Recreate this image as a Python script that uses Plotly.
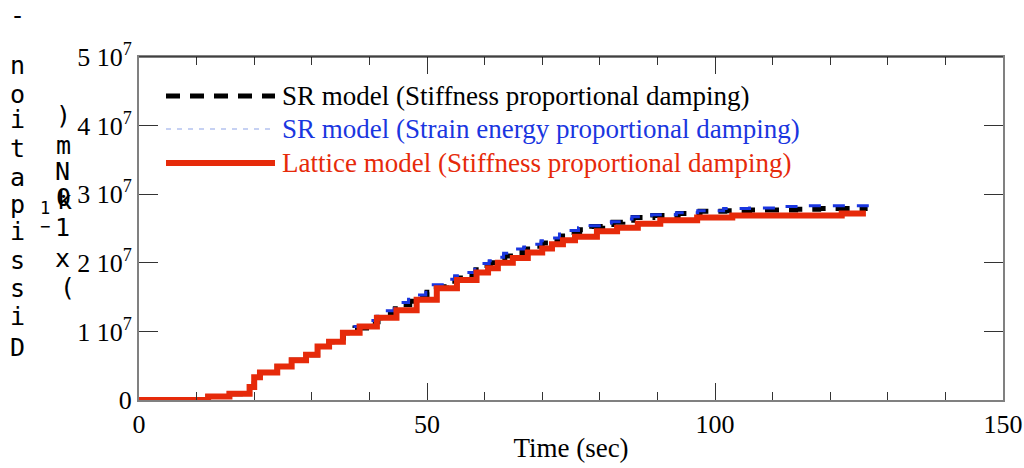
import plotly.graph_objects as go

# ---------------- data (values in units of 1e7) ----------------
t_early = [0, 12, 15.7, 19.2, 20, 21, 24, 26.5, 29, 31, 33]
v_early = [0, 0.05, 0.09, 0.19, 0.33, 0.40, 0.49, 0.58, 0.66, 0.78, 0.85]

t_lattice = t_early + [35.4, 38.3, 41.3, 44.7, 48.2, 51.7, 55.2, 58.6, 60.6, 62.3, 64.9, 67.5, 70, 71.7,
                       73.6, 75.7, 79.5, 83, 86.6, 90.5, 96.9, 103, 122, 126.2]
v_lattice = v_early + [0.98, 1.07, 1.20, 1.31, 1.46, 1.63, 1.75, 1.86, 1.92, 2.00, 2.07, 2.15, 2.21, 2.27,
                       2.33, 2.38, 2.46, 2.51, 2.57, 2.62, 2.66, 2.69, 2.72, 2.72]

t_sr_stiff = t_early + [35.5, 37.5, 39.5, 41.5, 42.7, 44.5, 45.6, 47, 48.4, 50, 51, 53.4, 55, 56.6, 58.5,
                        59.7, 61, 62, 63.5, 65.3, 67, 68.7, 70, 71.7, 73.3, 74.8, 76.5, 78.6, 80.5, 82.3,
                        84, 85.8, 89.2, 93.6, 97.4, 101.7, 106, 114, 118, 126.5]
v_sr_stiff = v_early + [0.98, 1.05, 1.14, 1.20, 1.27, 1.33, 1.39, 1.44, 1.50, 1.57, 1.65, 1.73, 1.78, 1.83,
                        1.90, 1.96, 2.00, 2.05, 2.10, 2.15, 2.20, 2.24, 2.29, 2.34, 2.39, 2.44, 2.48, 2.53,
                        2.56, 2.59, 2.62, 2.66, 2.69, 2.72, 2.75, 2.76, 2.77, 2.78, 2.79, 2.79]

t_sr_strain = t_early + [35.5, 37.5, 39.3, 41.3, 42.5, 44.3, 45.4, 46.8, 48.2, 49.8, 50.8, 53.2, 54.8, 56.4,
                         58.3, 59.5, 60.8, 61.8, 63.3, 65, 66.8, 68.5, 69.8, 71.5, 73, 74.5, 76.3, 78.3,
                         80.3, 82, 83.8, 85.6, 89, 93.3, 97, 101.5, 106, 112, 116, 126.7]
v_sr_strain = v_early + [1.00, 1.07, 1.16, 1.22, 1.30, 1.36, 1.42, 1.47, 1.53, 1.60, 1.68, 1.76, 1.81, 1.86,
                         1.93, 1.99, 2.03, 2.08, 2.14, 2.20, 2.23, 2.27, 2.32, 2.36, 2.42, 2.47, 2.51, 2.54,
                         2.58, 2.60, 2.64, 2.67, 2.70, 2.73, 2.76, 2.79, 2.80, 2.82, 2.83, 2.83]

series_names = ["SR model (Stiffness proportional damping)",
                "SR model (Strain energy proportional damping)",
                "Lattice model (Stiffness proportional damping)"]

y_tickvals = [0, 1, 2, 3, 4, 5]
y_ticktext = ["0", "1 10<sup>7</sup>", "2 10<sup>7</sup>", "3 10<sup>7</sup>", "4 10<sup>7</sup>", "5 10<sup>7</sup>"]
x_tickvals = [0, 50, 100, 150]

SCALE = 1e7

# ---------------- styling ----------------
W, H = 1024, 468
L, R, T, B = 139, 21, 57, 68
PW, PH = W - L - R, H - T - B
RED = "#e62a0a"
BLUE = "#1a36e0"
SERIF = "Liberation Serif, Times New Roman, serif"
MONO = "DejaVu Sans Mono, monospace"


def px(x):
    return (x - L) / PW


def py(y):
    return (H - B - y) / PH


fig = go.Figure()
fig.add_trace(go.Scatter(x=t_sr_stiff, y=[v * SCALE for v in v_sr_stiff], mode="lines", line_shape="hv",
                         line=dict(color="black", width=5, dash="14px,10px"), name=series_names[0]))
fig.add_trace(go.Scatter(x=t_sr_strain, y=[v * SCALE for v in v_sr_strain], mode="lines", line_shape="hv",
                         line=dict(color=BLUE, width=3, dash="12px,12px"), name=series_names[1]))
fig.add_trace(go.Scatter(x=t_lattice, y=[v * SCALE for v in v_lattice], mode="lines", line_shape="hv",
                         line=dict(color=RED, width=6), name=series_names[2]))

axis_common = dict(showgrid=False, zeroline=False, showline=True, linecolor="#808080", linewidth=2,
                   mirror="allticks", ticks="inside", tickcolor="#333333", tickwidth=1, automargin=False,
                   tickfont=dict(family=SERIF, size=26, color="black"))

fig.update_xaxes(range=[0, 150], tickvals=x_tickvals, ticklen=17,
                 minor=dict(ticks="inside", dtick=10, ticklen=8, tickcolor="#333333"),
                 title=dict(text="Time (sec)", font=dict(family=SERIF, size=27, color="black"), standoff=0),
                 **axis_common)
fig.update_yaxes(range=[0, 5 * SCALE], tickvals=[v * SCALE for v in y_tickvals], ticktext=y_ticktext,
                 ticklen=19, **axis_common)

shapes = [dict(type="line", xref="paper", yref="paper", x0=0, x1=1, y0=1, y1=1,
               line=dict(color="black", width=1))]

# legend drawn manually (lines + texts)
leg_rows = [96, 129, 163]
leg_styles = [dict(color="black", width=5, dash="14px,10px"),
              dict(color="#b4c2f0", width=1.5, dash="5px,6px"),
              dict(color=RED, width=6)]
leg_colors = ["black", BLUE, RED]
annotations = []
for name, yrow, st, col in zip(series_names, leg_rows, leg_styles, leg_colors):
    shapes.append(dict(type="line", xref="paper", yref="paper", x0=px(166), x1=px(275),
                       y0=py(yrow), y1=py(yrow), line=st))
    annotations.append(dict(xref="paper", yref="paper", x=px(280), y=py(yrow), text=name,
                            showarrow=False, xanchor="left", yanchor="middle",
                            font=dict(family=SERIF, size=27, color=col)))

# broken vertical y-axis label (characters stacked)
col1 = [("-", 18, 15), ("n", 18, 65), ("o", 18, 94), ("i", 18, 119), ("t", 18, 148), ("a", 18, 177),
        ("p", 18, 204), ("i", 18, 231), ("s", 18, 260), ("s", 18, 288), ("i", 18, 316), ("D", 18, 347)]
col2 = [(")", 63, 115), ("m", 63, 145), ("N", 62, 171), ("0", 63, 197), ("k", 64, 200),
        ("1", 62, 228), ("x", 62, 258), ("(", 67, 287)]
col2_small = [("1", 45, 208), ("\u2212", 45, 226)]
for ch, x, y in col1 + col2:
    annotations.append(dict(xref="paper", yref="paper", x=px(x), y=py(y), text=ch, showarrow=False,
                            xanchor="center", yanchor="middle",
                            font=dict(family=MONO, size=25, color="black")))
for ch, x, y in col2_small:
    annotations.append(dict(xref="paper", yref="paper", x=px(x), y=py(y), text=ch, showarrow=False,
                            xanchor="center", yanchor="middle",
                            font=dict(family=MONO, size=17, color="black")))

fig.update_layout(width=W, height=H, margin=dict(l=L, r=R, t=T, b=B),
                  paper_bgcolor="white", plot_bgcolor="white", showlegend=False,
                  shapes=shapes, annotations=annotations)

fig.write_html("out.html", config={"displayModeBar": False},
               post_script="document.body.style.margin='0';document.body.style.overflow='hidden';")
